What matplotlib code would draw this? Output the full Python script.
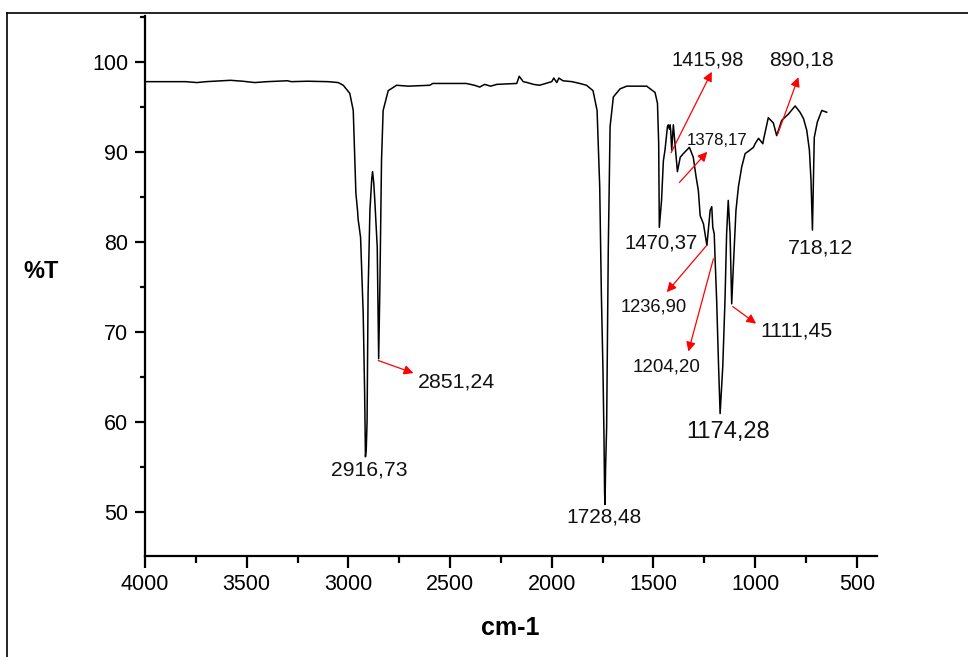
import matplotlib
matplotlib.use("Agg")
import matplotlib.pyplot as plt
from matplotlib.lines import Line2D
from matplotlib.ticker import MultipleLocator

plt.rcParams['font.family'] = ['Liberation Sans', 'DejaVu Sans']

# IR spectrum (wavenumber cm-1, %T)
wavenumber = [4000, 3900, 3800, 3745, 3700, 3580, 3520, 3460, 3400, 3300, 3280, 3200, 3100,
              3050, 3025, 2993, 2976, 2963, 2955, 2952, 2940, 2927, 2920, 2916, 2912, 2908,
              2903, 2894, 2885, 2881, 2875, 2870, 2858, 2851, 2845, 2837, 2829, 2804, 2763,
              2706, 2600, 2585, 2420, 2380, 2354, 2330, 2300, 2270, 2172, 2160, 2150, 2140,
              2120, 2090, 2060, 2030, 2000, 1990, 1975, 1965, 1945, 1900, 1862, 1829, 1797,
              1777, 1764, 1756, 1748, 1743, 1740, 1738, 1735, 1730, 1722, 1713, 1697, 1664,
              1631, 1533, 1492, 1480, 1474, 1471, 1466, 1460, 1451, 1443, 1431, 1427, 1421,
              1418, 1415, 1410, 1402, 1394, 1382, 1368, 1353, 1323, 1304, 1290, 1279, 1270,
              1254, 1237, 1221, 1213, 1208, 1201, 1197, 1189, 1180, 1172, 1159, 1148, 1140,
              1132, 1123, 1115, 1107, 1094, 1082, 1066, 1049, 1025, 1008, 1000, 983, 962,
              959, 935, 910, 894, 869, 836, 803, 779, 762, 746, 733, 725, 718, 714, 709,
              694, 672, 648]
transmittance = [97.8, 97.8, 97.8, 97.7, 97.8, 97.95, 97.85, 97.7, 97.8, 97.9, 97.8, 97.85, 97.8,
                 97.7, 97.4, 96.5, 94.6, 85.4, 83.5, 82.5, 80.5, 72.0, 63.2, 56.1, 57.0, 60.0,
                 74.3, 83.5, 87.0, 87.8, 86.5, 84.6, 79.4, 67.0, 75.0, 89.0, 94.6, 96.8, 97.4,
                 97.3, 97.4, 97.6, 97.6, 97.4, 97.2, 97.5, 97.3, 97.5, 97.6, 98.4, 98.1, 97.8,
                 97.7, 97.5, 97.4, 97.6, 97.8, 98.2, 97.7, 98.2, 97.9, 97.8, 97.6, 97.4, 96.8,
                 94.6, 86.1, 74.3, 65.7, 58.3, 52.0, 50.8, 55.0, 59.4, 79.0, 92.8, 96.1, 97.0,
                 97.3, 97.3, 96.6, 95.4, 90.9, 81.6, 83.0, 84.6, 89.0, 90.2, 92.8, 93.0, 92.5,
                 93.0, 92.4, 90.2, 93.0, 90.9, 87.8, 89.4, 89.8, 90.5, 89.4, 87.2, 85.7, 82.9,
                 82.0, 79.6, 83.5, 83.9, 81.6, 80.9, 78.3, 73.5, 66.5, 60.9, 66.1, 73.5, 80.9,
                 84.6, 80.9, 73.1, 77.2, 83.5, 86.1, 88.3, 89.8, 90.2, 90.5, 90.9, 91.5, 90.9,
                 91.3, 93.8, 93.2, 91.8, 93.5, 94.2, 95.1, 94.4, 93.7, 92.4, 90.2, 86.8, 81.3,
                 86.1, 91.6, 93.3, 94.6, 94.4]

# Peak labels: text, text position, arrow start (on spectrum) or None, font size
label_texts = ["2916,73", "1728,48", "1470,37", "718,12", "1174,28",
               "2851,24", "1111,45", "1204,20", "1236,90", "1415,98", "1378,17", "890,18"]
label_pos = [(2898, 54.6), (1743, 49.4), (1462, 79.9), (680, 79.3), (1131, 58.8),
             (2657, 64.4), (798, 70.1), (1434, 66.1), (1497, 72.8), (1234, 100.2),
             (1187, 91.3), (774, 100.2)]
label_ha = ['center', 'center', 'center', 'center', 'center',
            'left', 'center', 'center', 'center', 'center', 'center', 'center']
arrow_from = [None, None, None, None, None,
              (2853, 66.8), (1110, 72.8), (1205, 78.1), (1238, 79.6), (1413, 89.9),
              (1372, 86.6), (890, 91.9)]
arrow_to = [None, None, None, None, None,
            (2680, 65.4), (995, 70.9), (1328, 67.8), (1434, 74.4), (1213, 98.9),
            (1235, 90.0), (787, 98.3)]
label_sizes = [15.2, 15.0, 14.6, 15.4, 17, 15.4, 15.4, 13.5, 13.2, 14.4, 12.1, 15.2]

fig = plt.figure(figsize=(9.68, 6.57), dpi=100)
ax = fig.add_axes([145/968, 1-555.7/657, (876.7-145)/968, (555.7-16)/657])

ax.plot(wavenumber, transmittance, color='black', lw=1.1)

ax.set_xlim(4000, 402)
ax.set_ylim(45.1, 105.1)
ax.xaxis.set_major_locator(MultipleLocator(500))
ax.xaxis.set_minor_locator(MultipleLocator(250))
ax.set_yticks([50, 60, 70, 80, 90, 100])
ax.yaxis.set_minor_locator(MultipleLocator(5))

for s in ['top', 'right']:
    ax.spines[s].set_visible(False)
for s in ['left', 'bottom']:
    ax.spines[s].set_linewidth(1.6)
ax.tick_params(axis='x', which='major', direction='out', length=8.5, width=1.6,
               labelsize=15.5, pad=5)
ax.tick_params(axis='x', which='minor', direction='out', length=5, width=1.6)
ax.tick_params(axis='y', which='major', direction='out', length=7, width=1.6,
               labelsize=15.5, pad=5)
ax.tick_params(axis='y', which='minor', direction='out', length=3.5, width=1.6)

for t, pos, ha, a0, a1, fs in zip(label_texts, label_pos, label_ha, arrow_from, arrow_to,
                                  label_sizes):
    if a0 is not None:
        ax.annotate('', xy=a1, xytext=a0,
                    arrowprops=dict(arrowstyle='-|>', color='red', lw=0.9,
                                    mutation_scale=14, shrinkA=0, shrinkB=0))
    ax.text(pos[0], pos[1], t, ha=ha, va='center', fontsize=fs, color='#111111')

fig.text(41/968, 1-272/657, '%T', ha='center', va='center', fontsize=17, fontweight='bold')
fig.text(510/968, 1-628/657, 'cm-1', ha='center', va='center', fontsize=18, fontweight='bold')

# outer frame (left and top edges visible)
fig.add_artist(Line2D([7/968, 7/968], [-0.05, 1-12.7/657], transform=fig.transFigure,
                      color='black', lw=1.2))
fig.add_artist(Line2D([7/968, 1.05], [1-12.7/657, 1-12.7/657], transform=fig.transFigure,
                      color='black', lw=1.2))

fig.savefig('out.png', dpi=100)
